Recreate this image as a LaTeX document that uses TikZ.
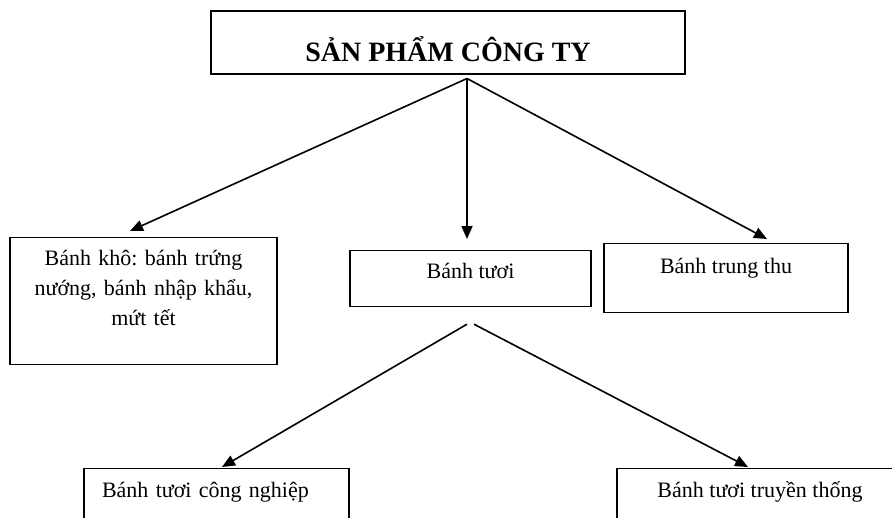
\documentclass[tikz,border=0pt]{standalone}
\usepackage{fontspec}
\setmainfont{Liberation Serif}
\usepackage{tikz}
\usetikzlibrary{arrows.meta, positioning, calc}
\frenchspacing

\begin{document}
\begin{tikzpicture}[
    x=1pt, y=-1pt,
    box/.style={rectangle, draw=black, line width=1.2pt, inner xsep=0pt, font=\fontsize{22}{30}\selectfont, text height=17pt, align=center, anchor=north},
    arrow/.style={-{Triangle[length=13pt, width=11pt]}, line width=1.6pt}
]
\useasboundingbox (0,0) rectangle (892,517);
\clip (0,0) rectangle (892,517);

\node[box, font=\fontsize{28}{34}\selectfont\bfseries, line width=1.5pt, minimum width=474pt, inner ysep=0pt, text height=51pt, text depth=12pt] (sp) at (448,10) {SẢN PHẨM CÔNG TY};

\node[box, text width=267pt, inner ysep=11pt, text depth=88pt] (kho) at (143.5,237) {Bánh khô: bánh trứng\\nướng, bánh nhập khẩu,\\mứt tết};
\node[box, minimum width=241pt, inner ysep=11pt, text depth=17pt] (tuoi) at (470.5,250) {Bánh tươi};
\node[box, minimum width=244pt, inner ysep=13pt, text depth=26pt] (trungthu) at (726,243) {Bánh trung thu};

\node[box, text width=229pt, align=left, inner xsep=18pt, inner ysep=12pt, text depth=40pt] (congnghiep) at (216.5,468) {Bánh tươi công nghiệp};
\node[box, minimum width=286pt, inner ysep=12pt, text depth=40pt] (truyenthong) at (760,468) {Bánh tươi truyền thống};

% branch points
\coordinate (forktop) at ($(sp.south)+(19,4)$);
\coordinate (forkleft) at ($(tuoi.south)+(-3.5,17)$);
\coordinate (forkright) at ($(tuoi.south)+(3.5,17)$);

\draw[arrow] (forktop) -- ($(kho.north)+(-13.5,-6)$);
\draw[arrow] (forktop) -- ($(tuoi.north)+(-3.5,-11)$);
\draw[arrow] (forktop) -- ($(trungthu.north)+(41,-4)$);

\draw[arrow] (forkleft) -- ($(congnghiep.north)+(5.5,-1)$);
\draw[arrow] (forkright) -- ($(truyenthong.north)+(-12,-1)$);

\end{tikzpicture}
\end{document}
